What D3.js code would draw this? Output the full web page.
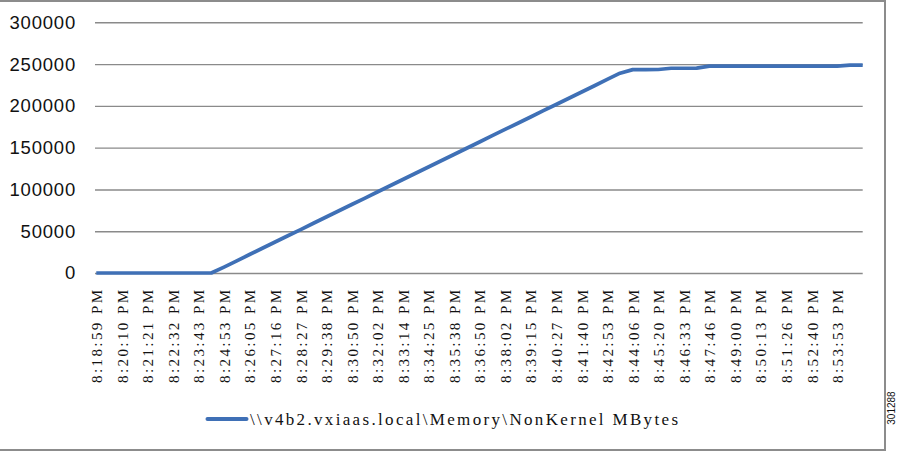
<!DOCTYPE html>
<html>
<head>
<meta charset="utf-8">
<script src="https://cdn.jsdelivr.net/npm/d3@7"></script>
<style>
  html, body { margin: 0; padding: 0; background: #fff; }
  svg { display: block; }
</style>
</head>
<body>
<svg id="chart" width="900" height="452"></svg>
<script>
// ---- data ----
const timeLabels = [
  "8:18:59 PM","8:20:10 PM","8:21:21 PM","8:22:32 PM","8:23:43 PM","8:24:53 PM",
  "8:26:05 PM","8:27:16 PM","8:28:27 PM","8:29:38 PM","8:30:50 PM","8:32:02 PM",
  "8:33:14 PM","8:34:25 PM","8:35:38 PM","8:36:50 PM","8:38:02 PM","8:39:15 PM",
  "8:40:27 PM","8:41:40 PM","8:42:53 PM","8:44:06 PM","8:45:20 PM","8:46:33 PM",
  "8:47:46 PM","8:49:00 PM","8:50:13 PM","8:51:26 PM","8:52:40 PM","8:53:53 PM"
];
// samples read every half label interval
const sampleStep = 0.5;
const memValues = [
  0, 0, 0, 0, 0, 0, 0, 0, 0, 0,
  7100, 14600, 22100, 29600, 37100, 44600, 52000, 59500, 67000, 74500,
  82000, 89400, 96900, 104400, 111900, 119400, 126800, 134300, 141800, 149300,
  156800, 164300, 171800, 179200, 186700, 194200, 201600, 209100, 216600, 224100,
  231600, 239100, 243400, 243400, 243500, 245000, 245000, 245100, 247500, 247500,
  247500, 247500, 247500, 247500, 247500, 247500, 247500, 247500, 247500, 248700,
  248800
];
const yTicks = [0, 50000, 100000, 150000, 200000, 250000, 300000];
const seriesName = "\\\\v4b2.vxiaas.local\\Memory\\NonKernel MBytes";
const figureId = "301288";

// ---- layout ----
const svg = d3.select("#chart");
const plotLeft = 95, plotRight = 862.7, plotTop = 22.3, plotBottom = 273;
const lineColor = "#3f70b6";
const gridColor = "#8a8a8a";

// outer frame
svg.append("rect")
  .attr("x", -1).attr("y", 1).attr("width", 886).attr("height", 449)
  .attr("fill", "none").attr("stroke", "#8c8c8c").attr("stroke-width", 2);

const x = d3.scaleLinear().domain([-0.05, 30]).range([plotLeft, plotRight]);
const y = d3.scaleLinear().domain([0, 300000]).range([plotBottom, plotTop]);

// y axis with gridlines
const yAxis = svg.append("g")
  .attr("transform", `translate(${plotLeft},0)`)
  .call(d3.axisLeft(y).tickValues(yTicks).tickFormat(d => String(d))
    .tickSizeInner(-(plotRight - plotLeft)).tickSizeOuter(0).tickPadding(19));
yAxis.select(".domain").remove();
yAxis.selectAll(".tick line").attr("stroke", gridColor).attr("stroke-width", 1.4);
yAxis.selectAll(".tick text")
  .attr("fill", "#111")
  .style("font-family", "'Liberation Sans', Arial, sans-serif")
  .style("font-size", "18.5px")
  .style("letter-spacing", "0.8px");

// x axis labels
const xAxis = svg.append("g")
  .attr("transform", `translate(0,${plotBottom})`)
  .call(d3.axisBottom(x).tickValues(d3.range(timeLabels.length))
    .tickFormat(i => timeLabels[i]).tickSize(0));
xAxis.select(".domain").remove();
xAxis.selectAll(".tick text")
  .attr("transform", "rotate(-90)")
  .attr("x", -17).attr("y", 0).attr("dy", "0.36em")
  .style("text-anchor", "end")
  .attr("fill", "#111")
  .style("font-family", "'Liberation Serif', 'Times New Roman', serif")
  .style("font-size", "15px")
  .attr("textLength", 93).attr("lengthAdjust", "spacing");

// series line
const line = d3.line()
  .x((d, i) => x(i * sampleStep))
  .y(d => y(d));
svg.append("path")
  .datum(memValues)
  .attr("d", line)
  .attr("fill", "none")
  .attr("stroke", lineColor)
  .attr("stroke-width", 3.7)
  .attr("stroke-linejoin", "round")
  .attr("stroke-linecap", "butt");

// legend
const lg = svg.append("g");
lg.append("line")
  .attr("x1", 207.5).attr("x2", 246.5).attr("y1", 419).attr("y2", 419)
  .attr("stroke", lineColor).attr("stroke-width", 4).attr("stroke-linecap", "round");
lg.append("text")
  .attr("x", 250).attr("y", 419.5).attr("dy", "0.35em")
  .attr("fill", "#111")
  .style("font-family", "'Liberation Serif', 'Times New Roman', serif")
  .style("font-size", "17px")
  .attr("textLength", 428).attr("lengthAdjust", "spacing")
  .text(seriesName);

// figure id
svg.append("text")
  .attr("transform", "translate(895,408) rotate(-90)")
  .attr("text-anchor", "middle")
  .attr("fill", "#111")
  .style("font-family", "'Liberation Sans', Arial, sans-serif")
  .style("font-size", "10px")
  .text(figureId);
</script>
</body>
</html>
